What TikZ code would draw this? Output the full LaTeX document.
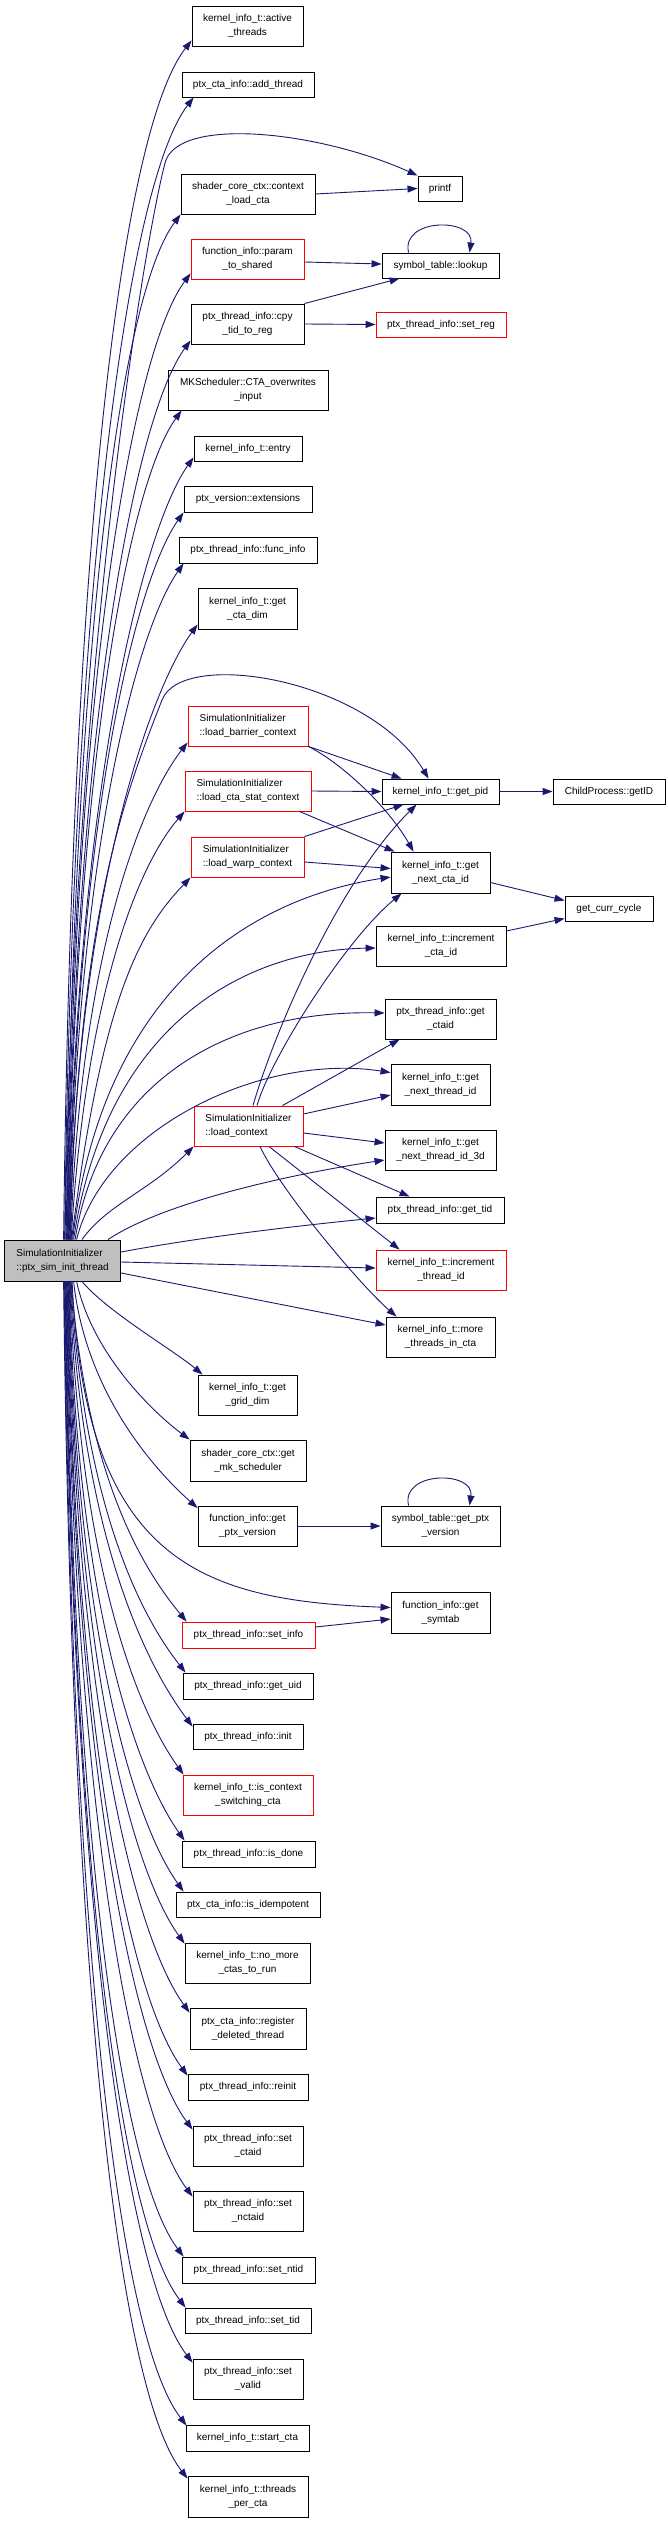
\documentclass[tikz,border=0pt]{standalone}
\usepackage{fontspec}
\setmainfont{Liberation Sans}
\usetikzlibrary{arrows.meta}
\definecolor{edgec}{HTML}{191970}
\definecolor{rootfill}{HTML}{BFBFBF}
\begin{document}
\begin{tikzpicture}[x=1pt,y=-1pt,
  bx/.style={draw=black, line width=0.9pt, inner sep=0pt, align=center, font=\fontsize{10}{14}\selectfont},
  rb/.style={bx, draw=red},
  lb/.style={align=left},
  edg/.style={draw=edgec, line width=0.9pt, -{Triangle[length=10pt,width=7pt]}}]
\fill[white] (0,0) rectangle (668,2523);
\useasboundingbox (0,0) rectangle (668,2523);
% middle column
\node[bx,minimum width=111pt,minimum height=40pt] (at) at (247.5,26) {kernel\_info\_t::active\\\_threads};
\node[bx,minimum width=132pt,minimum height=25pt] (add) at (248,84.5) {ptx\_cta\_info::add\_thread};
\node[bx,minimum width=134pt,minimum height=40pt] (clc) at (248,194) {shader\_core\_ctx::context\\\_load\_cta};
\node[rb,minimum width=113pt,minimum height=40pt] (pts) at (247.5,259) {function\_info::param\\\_to\_shared};
\node[bx,minimum width=113pt,minimum height=40pt] (cpy) at (247.5,324) {ptx\_thread\_info::cpy\\\_tid\_to\_reg};
\node[bx,minimum width=160pt,minimum height=40pt] (cta) at (248,390) {MKScheduler::CTA\_overwrites\\\_input};
\node[bx,minimum width=108pt,minimum height=25pt] (ent) at (248,448.5) {kernel\_info\_t::entry};
\node[bx,minimum width=128pt,minimum height=26pt] (ext) at (248,499) {ptx\_version::extensions};
\node[bx,minimum width=138pt,minimum height=26pt] (fi) at (248,550) {ptx\_thread\_info::func\_info};
\node[bx,minimum width=99pt,minimum height=41pt] (gcd) at (247.5,608.5) {kernel\_info\_t::get\\\_cta\_dim};
\node[rb,lb,minimum width=120pt,minimum height=40pt] (lbc) at (248,726) {SimulationInitializer\\::load\_barrier\_context};
\node[rb,lb,minimum width=126pt,minimum height=40pt] (lcs) at (248,791) {SimulationInitializer\\::load\_cta\_stat\_context};
\node[rb,lb,minimum width=113pt,minimum height=40pt] (lwc) at (247.5,857) {SimulationInitializer\\::load\_warp\_context};
\node[rb,lb,minimum width=109pt,minimum height=40pt] (lc) at (248.5,1126) {SimulationInitializer\\::load\_context};
\node[bx,lb,fill=rootfill,minimum width=116pt,minimum height=41pt] (root) at (62.6,1260.5) {SimulationInitializer\\::ptx\_sim\_init\_thread};
\node[bx,minimum width=99pt,minimum height=40pt] (ggd) at (247.5,1395) {kernel\_info\_t::get\\\_grid\_dim};
\node[bx,minimum width=116pt,minimum height=41pt] (gms) at (248,1460.5) {shader\_core\_ctx::get\\\_mk\_scheduler};
\node[bx,minimum width=99pt,minimum height=40pt] (gpv) at (247.5,1526) {function\_info::get\\\_ptx\_version};
\node[rb,minimum width=133pt,minimum height=26pt] (si) at (248.5,1635) {ptx\_thread\_info::set\_info};
\node[bx,minimum width=130pt,minimum height=26pt] (guid) at (248,1686) {ptx\_thread\_info::get\_uid};
\node[bx,minimum width=110pt,minimum height=25pt] (init) at (248,1736.5) {ptx\_thread\_info::init};
\node[rb,minimum width=130pt,minimum height=40pt] (ics) at (248,1795) {kernel\_info\_t::is\_context\\\_switching\_cta};
\node[bx,minimum width=133pt,minimum height=26pt] (isd) at (248.5,1854) {ptx\_thread\_info::is\_done};
\node[bx,minimum width=144pt,minimum height=25pt] (idem) at (248,1904.5) {ptx\_cta\_info::is\_idempotent};
\node[bx,minimum width=125pt,minimum height=40pt] (nmc) at (247.5,1963) {kernel\_info\_t::no\_more\\\_ctas\_to\_run};
\node[bx,minimum width=116pt,minimum height=41pt] (rdt) at (248,2028.5) {ptx\_cta\_info::register\\\_deleted\_thread};
\node[bx,minimum width=120pt,minimum height=26pt] (rei) at (248,2087) {ptx\_thread\_info::reinit};
\node[bx,minimum width=110pt,minimum height=40pt] (sct) at (248,2146) {ptx\_thread\_info::set\\\_ctaid};
\node[bx,minimum width=110pt,minimum height=40pt] (snc) at (248,2211) {ptx\_thread\_info::set\\\_nctaid};
\node[bx,minimum width=133pt,minimum height=26pt] (snt) at (248.5,2270) {ptx\_thread\_info::set\_ntid};
\node[bx,minimum width=126pt,minimum height=25pt] (stid) at (248,2320.5) {ptx\_thread\_info::set\_tid};
\node[bx,minimum width=110pt,minimum height=40pt] (sv) at (248,2379) {ptx\_thread\_info::set\\\_valid};
\node[bx,minimum width=123pt,minimum height=26pt] (sc) at (247.5,2438) {kernel\_info\_t::start\_cta};
\node[bx,minimum width=120pt,minimum height=41pt] (tpc) at (248,2496.5) {kernel\_info\_t::threads\\\_per\_cta};
% right column
\node[bx,minimum width=44pt,minimum height=25pt] (printf) at (440,188.5) {printf};
\node[bx,minimum width=117pt,minimum height=25pt] (lookup) at (440.5,265.5) {symbol\_table::lookup};
\node[rb,minimum width=130pt,minimum height=25pt] (setreg) at (441,324.5) {ptx\_thread\_info::set\_reg};
\node[bx,minimum width=117pt,minimum height=25pt] (gpid) at (440.5,791.5) {kernel\_info\_t::get\_pid};
\node[bx,minimum width=99pt,minimum height=41pt] (gnc) at (440.5,872.5) {kernel\_info\_t::get\\\_next\_cta\_id};
\node[bx,minimum width=130pt,minimum height=40pt] (icta) at (441,946) {kernel\_info\_t::increment\\\_cta\_id};
\node[bx,minimum width=111pt,minimum height=40pt] (gctaid) at (440.5,1019) {ptx\_thread\_info::get\\\_ctaid};
\node[bx,minimum width=99pt,minimum height=41pt] (gnt) at (440.5,1084.5) {kernel\_info\_t::get\\\_next\_thread\_id};
\node[bx,minimum width=111pt,minimum height=40pt] (gnt3) at (440.5,1150) {kernel\_info\_t::get\\\_next\_thread\_id\_3d};
\node[bx,minimum width=128pt,minimum height=26pt] (gtid) at (440,1210) {ptx\_thread\_info::get\_tid};
\node[rb,minimum width=130pt,minimum height=40pt] (itid) at (441,1270) {kernel\_info\_t::increment\\\_thread\_id};
\node[bx,minimum width=109pt,minimum height=40pt] (mtc) at (440.5,1337) {kernel\_info\_t::more\\\_threads\_in\_cta};
\node[bx,minimum width=119pt,minimum height=40pt] (stgpv) at (440.5,1526) {symbol\_table::get\_ptx\\\_version};
\node[bx,minimum width=99pt,minimum height=41pt] (gst) at (440.5,1612.5) {function\_info::get\\\_symtab};
% third column
\node[bx,minimum width=112pt,minimum height=25pt] (getid) at (609,791.5) {ChildProcess::getID};
\node[bx,minimum width=88pt,minimum height=25pt] (gcc) at (609,908.5) {get\_curr\_cycle};
% upper fan from root
\draw[edg] ([shift={(1,0)}]root.north) .. controls +(8,-700) and +(-70,90) .. ([shift={(0,-6)}]at.south west);
\draw[edg] ([shift={(2,0)}]root.north) .. controls +(8,-665) and +(-65,85) .. ([shift={(12,0)}]add.south west);
\draw[edg] ([shift={(2.5,0)}]root.north) .. controls +(7,-540) and +(-25,97) .. (165,163) .. controls +(12,-47) and +(-100,-45) .. (printf.north west);
\draw[edg] ([shift={(3.5,0)}]root.north) .. controls +(8,-600) and +(-60,80) .. (clc.south west);
\draw[edg] ([shift={(4,0)}]root.north) .. controls +(8,-560) and +(-58,78) .. ([shift={(0,-6)}]pts.south west);
\draw[edg] ([shift={(4.5,0)}]root.north) .. controls +(8,-520) and +(-55,75) .. ([shift={(0,-4)}]cpy.south west);
\draw[edg] ([shift={(5,0)}]root.north) .. controls +(8,-480) and +(-52,72) .. ([shift={(14,0)}]cta.south west);
\draw[edg] ([shift={(5.5,0)}]root.north) .. controls +(8,-450) and +(-50,70) .. ([shift={(0,-4)}]ent.south west);
\draw[edg] ([shift={(6,0)}]root.north) .. controls +(8,-420) and +(-48,68) .. (ext.south west);
\draw[edg] ([shift={(6.5,0)}]root.north) .. controls +(8,-390) and +(-46,65) .. ([shift={(5,0)}]fi.south west);
\draw[edg] ([shift={(7,0)}]root.north) .. controls +(8,-355) and +(-45,62) .. ([shift={(0,-5)}]gcd.south west);
\draw[edg] ([shift={(7.5,0)}]root.north) .. controls +(8,-330) and +(-35,90) .. (162,700) .. controls +(20,-52) and +(-60,-100) .. ([shift={(47,0)}]gpid.north west);
\draw[edg] ([shift={(8,0)}]root.north) .. controls +(10,-290) and +(-45,58) .. ([shift={(0,-4)}]lbc.south west);
\draw[edg] ([shift={(8.5,0)}]root.north) .. controls +(15,-250) and +(-45,52) .. (lcs.south west);
\draw[edg] ([shift={(9,0)}]root.north) .. controls +(30,-240) and +(-51,53) .. (lwc.south west);
\draw[edg] ([shift={(10,0)}]root.north) .. controls +(28,-240) and +(-150,23) .. ([shift={(0,4.5)}]gnc.west);
\draw[edg] ([shift={(11,0)}]root.north) .. controls +(33,-220) and +(-126,2) .. ([shift={(0,2)}]icta.west);
\draw[edg] ([shift={(12.5,0)}]root.north) .. controls +(25,-160) and +(-155,-3) .. ([shift={(0,-6)}]gctaid.west);
\draw[edg] ([shift={(14,0)}]root.north) .. controls +(27,-110) and +(-130,-20) .. ([shift={(0,-12)}]gnt.west);
\draw[edg] ([shift={(19.4,0)}]root.north) .. controls +(25,-35) and +(-45,45) .. (lc.south west);
\draw[edg] ([shift={(45.4,0)}]root.north) .. controls +(60,-40) and +(-80,12) .. ([shift={(0,10)}]gnt3.west);
\draw[edg] ([shift={(0,-8.5)}]root.east) .. controls +(80,-15) and +(-80,8) .. ([shift={(0,8)}]gtid.west);
\draw[edg] ([shift={(0,1.5)}]root.east) -- ([shift={(0,-2)}]itid.west);
\draw[edg] ([shift={(0,12.5)}]root.east) -- ([shift={(0,-12)}]mtc.west);
% lower fan from root
\draw[edg] ([shift={(1,0)}]root.south) .. controls +(8,695) and +(-70,-90) .. ([shift={(0,3)}]tpc.north west);
\draw[edg] ([shift={(1.5,0)}]root.south) .. controls +(8,665) and +(-68,-88) .. ([shift={(1,1)}]sc.north west);
\draw[edg] ([shift={(2,0)}]root.south) .. controls +(8,628) and +(-66,-86) .. ([shift={(0,4)}]sv.north west);
\draw[edg] ([shift={(2.5,0)}]root.south) .. controls +(8,596) and +(-64,-84) .. ([shift={(1,0)}]stid.north west);
\draw[edg] ([shift={(3,0)}]root.south) .. controls +(8,566) and +(-62,-82) .. ([shift={(2,0)}]snt.north west);
\draw[edg] ([shift={(3.5,0)}]root.south) .. controls +(8,531) and +(-60,-80) .. ([shift={(0,6)}]snc.north west);
\draw[edg] ([shift={(4,0)}]root.south) .. controls +(8,492) and +(-58,-78) .. ([shift={(0,4)}]sct.north west);
\draw[edg] ([shift={(4.5,0)}]root.south) .. controls +(8,461) and +(-56,-76) .. ([shift={(0,2)}]rei.north west);
\draw[edg] ([shift={(5,0)}]root.south) .. controls +(8,425) and +(-54,-74) .. ([shift={(0,5)}]rdt.north west);
\draw[edg] ([shift={(5.5,0)}]root.south) .. controls +(8,385) and +(-52,-72) .. ([shift={(0,1)}]nmc.north west);
\draw[edg] ([shift={(6,0)}]root.south) .. controls +(8,355) and +(-50,-70) .. ([shift={(8,0)}]idem.north west);
\draw[edg] ([shift={(6.5,0)}]root.south) .. controls +(8,325) and +(-48,-68) .. ([shift={(3,0)}]isd.north west);
\draw[edg] ([shift={(7,0)}]root.south) .. controls +(10,287) and +(-46,-64) .. ([shift={(1,0)}]ics.north west);
\draw[edg] ([shift={(7.5,0)}]root.south) .. controls +(12,259) and +(-45,-60) .. ([shift={(0,3)}]init.north west);
\draw[edg] ([shift={(8,0)}]root.south) .. controls +(14,228) and +(-44,-56) .. ([shift={(3,0)}]guid.north west);
\draw[edg] ([shift={(8.5,0)}]root.south) .. controls +(16,198) and +(-43,-52) .. ([shift={(5,0)}]si.north west);
\draw[edg] ([shift={(9.5,0)}]root.south) .. controls +(13,279) and +(-191,-7) .. ([shift={(0,-5)}]gst.west);
\draw[edg] ([shift={(11,0)}]root.south) .. controls +(12,110) and +(-45,-40) .. ([shift={(0,-18)}]gpv.west);
\draw[edg] ([shift={(14,0)}]root.south) .. controls +(15,70) and +(-40,-30) .. (gms.north west);
\draw[edg] ([shift={(19.4,0)}]root.south) .. controls +(25,30) and +(-30,-25) .. ([shift={(5,0)}]ggd.north west);
% other edges
\draw[edg] (clc.east) -- (printf.west);
\draw[edg] ([shift={(0,3)}]pts.east) -- ([shift={(0,-1.5)}]lookup.west);
\draw[edg] (cpy.north east) -- ([shift={(18,0)}]lookup.south west);
\draw[edg] (cpy.east) -- (setreg.west);
\draw[edg] ([shift={(27,0)}]lookup.north west) .. controls +(-8,-35) and +(5,-35) .. ([shift={(88,0)}]lookup.north west);
\draw[edg] (lbc.south east) -- ([shift={(20,0)}]gpid.north west);
\draw[edg] (lbc.south east) .. controls +(37,19) and +(-24,-42) .. ([shift={(23,0)}]gnc.north west);
\draw[edg] (lcs.east) -- (gpid.west);
\draw[edg] ([shift={(-12,0)}]lcs.south east) -- ([shift={(4,0)}]gnc.north west);
\draw[edg] (lwc.north east) -- ([shift={(22,0)}]gpid.south west);
\draw[edg] ([shift={(0,5)}]lwc.east) -- ([shift={(0,-4)}]gnc.west);
\draw[edg] (gpid.east) -- (getid.west);
\draw[edg] ([shift={(0,10)}]gnc.east) -- ([shift={(0,-8)}]gcc.west);
\draw[edg] ([shift={(0,-15)}]icta.east) -- ([shift={(0,10)}]gcc.west);
\draw[edg] ([shift={(4.5,0)}]lc.north) .. controls +(22,-76) and +(-77,76) .. ([shift={(35,0)}]gpid.south west);
\draw[edg] ([shift={(8.5,0)}]lc.north) .. controls +(13,-46) and +(-57,47) .. ([shift={(11,0)}]gnc.south west);
\draw[edg] ([shift={(34,0)}]lc.north) -- ([shift={(15,0)}]gctaid.south west);
\draw[edg] ([shift={(0,-12)}]lc.east) -- ([shift={(0,10.5)}]gnt.west);
\draw[edg] ([shift={(0,7)}]lc.east) -- ([shift={(0,-7)}]gnt3.west);
\draw[edg] ([shift={(-9,0)}]lc.south east) -- ([shift={(34,0)}]gtid.north west);
\draw[edg] ([shift={(20.5,0)}]lc.south) -- ([shift={(24,0)}]itid.north west);
\draw[edg] ([shift={(11.5,0)}]lc.south) .. controls +(20,43) and +(-37,-32) .. ([shift={(11,0)}]mtc.north west);
\draw[edg] (gpv.east) -- (stgpv.west);
\draw[edg] ([shift={(28,0)}]stgpv.north west) .. controls +(-8,-35) and +(5,-35) .. ([shift={(89,0)}]stgpv.north west);
\draw[edg] ([shift={(0,-8)}]si.east) -- ([shift={(0,6.5)}]gst.west);
\end{tikzpicture}
\end{document}
